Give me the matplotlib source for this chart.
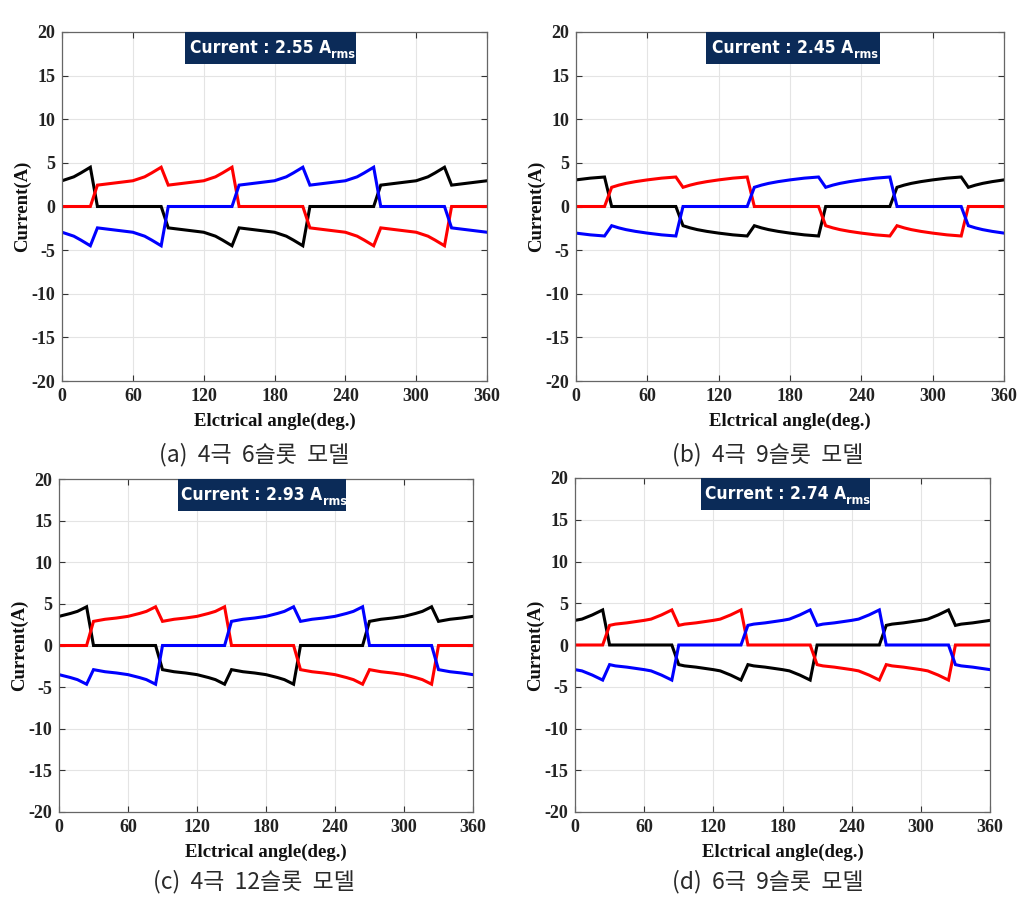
"""
Phase current waveforms for four BLDC pole/slot models (2x2 grid).
Writes out.png (1022 x 900 px).
"""

import numpy as np
import matplotlib
matplotlib.use("Agg")
import matplotlib.pyplot as plt
from matplotlib.patches import Rectangle
from matplotlib import font_manager


# ─── Data ───────────────────────────────────────────────────────────────────────

# 60-degree commutation sectors (start angle, deg.), one extra each side for wrap
SECTOR_STARTS = [-30, 30, 90, 150, 210, 270, 330, 390]

# conduction state of each phase in each sector (+1 / 0 / -1)
STATE_BLACK = [1, 0, -1, -1, 0, 1, 1, 0]
STATE_RED   = [0, 1, 1, 0, -1, -1, 0, 1]
STATE_BLUE  = [-1, -1, 0, 1, 1, 0, -1, -1]

# current magnitude inside one sector (offset deg., A)
OFFSET_A = [0, 15, 30, 40, 46, 54]
AMP_A    = [2.45, 2.7, 2.95, 3.4, 3.85, 4.5]

OFFSET_B = [0, 6, 12, 20, 30, 42, 54]
AMP_B    = [2.2, 2.45, 2.65, 2.85, 3.05, 3.25, 3.38]

OFFSET_C = [0, 10, 20, 30, 40, 46, 54]
AMP_C    = [2.9, 3.15, 3.3, 3.5, 3.85, 4.1, 4.65]

OFFSET_D = [0, 5, 15, 30, 36, 45, 54]
AMP_D    = [2.35, 2.5, 2.65, 2.95, 3.1, 3.6, 4.2]

RMS_VALUES = ["2.55", "2.45", "2.93", "2.74"]
CAPTIONS   = ["(a)  4극  6슬롯  모델", "(b)  4극  9슬롯  모델",
              "(c)  4극  12슬롯  모델", "(d)  6극  9슬롯  모델"]

X_TICKS = [0, 60, 120, 180, 240, 300, 360]
Y_TICKS = [-20, -15, -10, -5, 0, 5, 10, 15, 20]


# ─── Layout (pixels of the 1022 x 900 canvas) ───────────────────────────────────

FIG_W, FIG_H = 1022, 900
# left, top, right, bottom of each axes
AX_PX = [(62, 32, 487, 381), (576, 32, 1004, 381),
         (59, 479, 473, 812), (575, 478, 990, 812)]
CAPTION_PX = [(254, 455), (768, 455), (254, 882), (768, 882)]
BOX_X = [(185, 356), (706, 880), (178, 346), (701, 870)]

SERIF = ["Liberation Serif", "DejaVu Serif"]
KOREAN = ["Noto Sans CJK KR", "DejaVu Sans"]
NAVY = "#0b2b58"

plt.rcParams["axes.unicode_minus"] = False

# condensed bold face for the rms boxes
BOX_FONT = font_manager.FontProperties(family="DejaVu Sans", stretch="condensed",
                                       weight="bold", size=12.5)
SUB_FONT = font_manager.FontProperties(family="DejaVu Sans", stretch="condensed",
                                       weight="bold", size=9)


def phase_wave(offsets, amps, states):
    offsets = np.asarray(offsets, dtype=float)
    amps = np.asarray(amps, dtype=float)
    x = np.concatenate([s + offsets for s in SECTOR_STARTS])
    y = np.concatenate([st * amps for st in states])
    return x, y


def draw_panel(fig, idx, offsets, amps):
    l, t, r, b = AX_PX[idx]
    ax = fig.add_axes([l / FIG_W, 1 - b / FIG_H, (r - l) / FIG_W, (b - t) / FIG_H])

    for states, color in [(STATE_BLACK, "black"), (STATE_RED, "#ff0000"),
                          (STATE_BLUE, "#0000ff")]:
        x, y = phase_wave(offsets, amps, states)
        ax.plot(x, y, color=color, lw=2.2, solid_joinstyle="miter")

    ax.set_xlim(0, 360)
    ax.set_ylim(-20, 20)
    ax.set_xticks(X_TICKS)
    ax.set_yticks(Y_TICKS)
    ax.grid(True, color="#e4e4e4", lw=0.8)
    ax.set_axisbelow(True)
    ax.tick_params(direction="in", top=True, right=True, length=4,
                   width=0.8, color="#333333", pad=5)
    for lab in ax.get_xticklabels() + ax.get_yticklabels():
        lab.set_fontfamily(SERIF)
        lab.set_fontweight("bold")
        lab.set_fontsize(13)
        lab.set_color("#222222")
    for sp in ax.spines.values():
        sp.set_color("#666666")
        sp.set_linewidth(0.9)

    w, h = r - l, b - t
    ax.set_xlabel("Elctrical angle(deg.)", family=SERIF, fontweight="bold",
                  fontsize=13.5, color="#111111")
    ax.xaxis.set_label_coords(0.5, -32 / h)
    ax.set_ylabel("Current(A)", family=SERIF, fontweight="bold",
                  fontsize=13.5, color="#111111")
    ax.yaxis.set_label_coords(-31 / w, 0.5)

    # rms label box
    bx0, bx1 = BOX_X[idx]
    box_h = 32 / h
    x0 = (bx0 - l) / w
    bw = (bx1 - bx0) / w
    ax.add_patch(Rectangle((x0, 1 - box_h), bw, box_h, transform=ax.transAxes,
                           facecolor=NAVY, edgecolor="none", zorder=5,
                           clip_on=False))
    main = ax.text(x0 + bw / 2 - 10 / w, 1 - box_h / 2,
                   f"Current : {RMS_VALUES[idx]} A", transform=ax.transAxes,
                   ha="center", va="center", color="white",
                   fontproperties=BOX_FONT, zorder=6)
    ax.annotate("rms", xy=(1, 0.12), xycoords=main, ha="left", va="center",
                color="white", fontproperties=SUB_FONT, zorder=6)

    cx, cy = CAPTION_PX[idx]
    fig.text(cx / FIG_W, 1 - cy / FIG_H, CAPTIONS[idx], ha="center",
             va="center", family=KOREAN, fontsize=16.5, color="#2a2a2a")
    return ax


# ─── Main ────────────────────────────────────────────────────────────────────────

def main():
    fig = plt.figure(figsize=(FIG_W / 100, FIG_H / 100), dpi=100,
                     facecolor="white")
    profiles = [(OFFSET_A, AMP_A), (OFFSET_B, AMP_B),
                (OFFSET_C, AMP_C), (OFFSET_D, AMP_D)]
    for i, (off, amp) in enumerate(profiles):
        draw_panel(fig, i, off, amp)
    fig.savefig("out.png", dpi=100, facecolor="white")
    plt.close(fig)


if __name__ == "__main__":
    main()
